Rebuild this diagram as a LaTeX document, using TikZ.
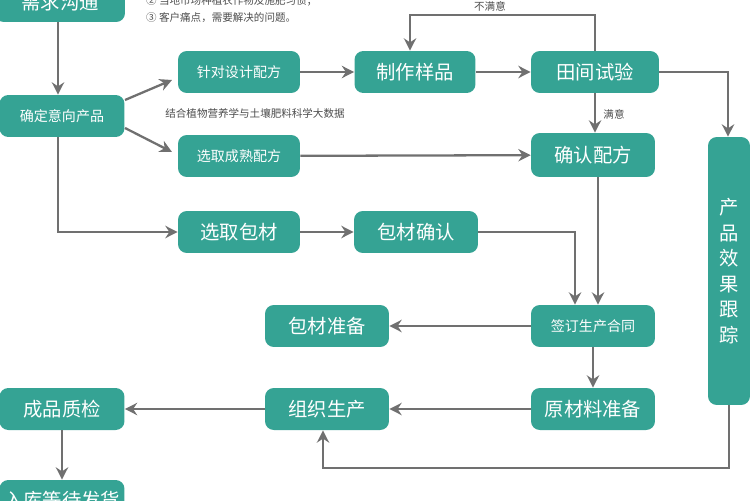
\documentclass[tikz,border=0pt]{standalone}
\usepackage{fontspec}
\setmainfont{Noto Sans CJK SC}
\usetikzlibrary{arrows.meta}
\definecolor{teal1}{HTML}{35A394}
\definecolor{arr}{HTML}{707070}
\begin{document}
\begin{tikzpicture}[x=0.02cm,y=-0.02cm,
 box/.style={fill=teal1,rounded corners=5pt,text=white,font=\fontsize{11}{13}\selectfont,inner sep=0pt,minimum height=0.84cm},
 sbox/.style={box,font=\fontsize{8}{10}\selectfont},
 ar/.style={draw=arr,line width=1.3pt,-{Stealth[length=7pt,width=7pt]}},
 note/.style={font=\fontsize{6}{7}\selectfont,text=black!70}]
\useasboundingbox (0,0) rectangle (750,500);
\node[box,minimum width=2.6cm,minimum height=0.8cm] (a) at (60,2) {需求沟通};
\node[sbox,minimum width=2.5cm] (b) at (62,116) {确定意向产品};
\node[sbox,minimum width=2.44cm] (c) at (239,72) {针对设计配方};
\node[box,minimum width=2.42cm] (d) at (415,72) {制作样品};
\node[box,minimum width=2.56cm] (e) at (595,72) {田间试验};
\node[sbox,minimum width=2.44cm] (f) at (239,156) {选取成熟配方};
\node[box,minimum width=2.48cm,minimum height=0.88cm] (g) at (593,155) {确认配方};
\node[box,minimum width=2.44cm] (h) at (239,232) {选取包材};
\node[box,minimum width=2.48cm] (i) at (416,232) {包材确认};
\node[box,minimum width=0.84cm,minimum height=5.36cm,align=center,font=\fontsize{11}{14.5}\selectfont] (j) at (729,271) {产\\品\\效\\果\\跟\\踪};
\node[sbox,minimum width=2.48cm] (k) at (593,326) {签订生产合同};
\node[box,minimum width=2.48cm] (l) at (327,326) {包材准备};
\node[box,minimum width=2.48cm] (m) at (593,409) {原材料准备};
\node[box,minimum width=2.48cm] (n) at (327,409) {组织生产};
\node[box,minimum width=2.5cm] (o) at (62,409) {成品质检};
\node[box,minimum width=2.5cm,minimum height=0.8cm] (p) at (62,500) {入库等待发货};
\node[note,anchor=west] (t1) at (140,1) {② 当地市场种植农作物及施肥习惯；};
\node[note,anchor=west] (t2) at (140,18) {③ 客户痛点，需要解决的问题。};
\node[note] (t3) at (255,113) {结合植物营养学与土壤肥料科学大数据};
\coordinate (q1) at (595,15); \coordinate (q2) at (410,15);
\coordinate (q3) at (58,232);
\coordinate (q4) at (728,72);
\coordinate (q5) at (575,232);
\coordinate (q6) at (729,468); \coordinate (q7) at (323,468);
\draw[ar] (a.south-|58,0) -- (b.north-|58,0);
\draw[ar] (125,100) -- (172,80);
\draw[ar] (125,128) -- (172,152);
\draw[ar] (b.south-|58,0) -- (q3) -- (h.west);
\draw[ar] (c) -- (d);
\draw[ar] (d) -- (e);
\draw[ar] (e.north) |- (q1) -- (q2) -- (d.north-|q2);
\node[note] (t4) at (490,6) {不满意};
\draw[ar] (e.south) -- (g.north-|e.south);
\node[note] (t5) at (614,114) {满意};
\draw[ar] (f) -- (g);
\draw[ar] (e.east) -- (q4) -- (j.north-|q4);
\draw[ar] (h) -- (i);
\draw[ar] (i.east) -- (q5) -- (k.north-|q5);
\draw[ar] (g.south-|598,0) -- (k.north-|598,0);
\draw[ar] (k) -- (l);
\draw[ar] (k) -- (m);
\draw[ar] (m) -- (n);
\draw[ar] (n) -- (o);
\draw[ar] (o) -- (p);
\draw[ar] (j.south) -- (q6) -- (q7) -- (n.south-|q7);
\end{tikzpicture}
\end{document}
